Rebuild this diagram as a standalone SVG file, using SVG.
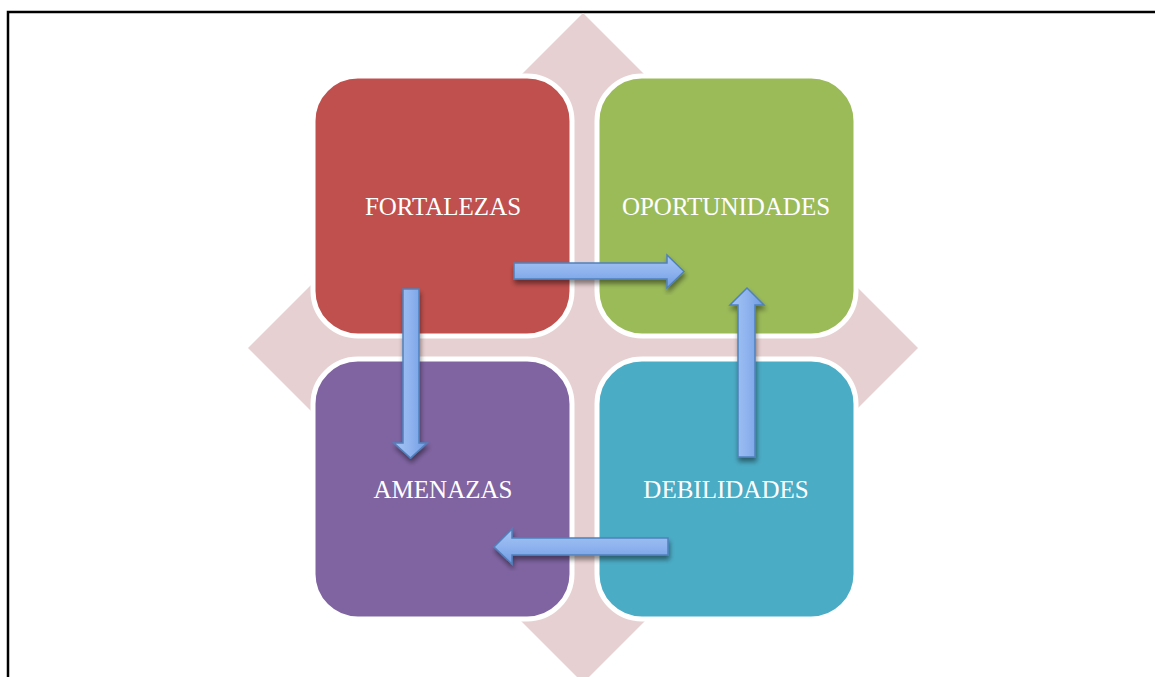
<svg xmlns="http://www.w3.org/2000/svg" width="1155" height="677" viewBox="0 0 1155 677">
<style>
.box{stroke:#ffffff;stroke-width:5}
.lbl{font-family:"Liberation Serif","Times New Roman",serif;font-size:25px;fill:#ffffff;text-anchor:middle}
.arr{stroke:#4f81bd;stroke-width:1.5;stroke-linejoin:miter;filter:url(#sh)}
</style>
<defs>
<linearGradient id="gv" x1="0" y1="0" x2="0" y2="1">
<stop offset="0" stop-color="#a6c6f6"/>
<stop offset="0.5" stop-color="#8fb3ee"/>
<stop offset="1" stop-color="#6f9be3"/>
</linearGradient>
<linearGradient id="gh" x1="0" y1="0" x2="1" y2="0">
<stop offset="0" stop-color="#a6c6f6"/>
<stop offset="0.5" stop-color="#8fb3ee"/>
<stop offset="1" stop-color="#6f9be3"/>
</linearGradient>
<filter id="sh" x="-20%" y="-20%" width="140%" height="140%">
<feGaussianBlur in="SourceAlpha" stdDeviation="2.5"/>
<feOffset dx="1" dy="4" result="b"/>
<feComponentTransfer><feFuncA type="linear" slope="0.45"/></feComponentTransfer>
<feMerge><feMergeNode/><feMergeNode in="SourceGraphic"/></feMerge>
</filter>
</defs>
<rect x="0" y="0" width="1155" height="677" fill="#ffffff"/>
<rect x="8" y="12" width="1170" height="700" fill="none" stroke="#000000" stroke-width="2.5"/>
<polygon id="background" points="583,13 918,348 583,683 248,348" fill="#e7d0d1"/>
<g id="fortalezas">
<rect class="box" x="313" y="76" width="259" height="260" rx="45" fill="#c0504d"/>
<text class="lbl" x="443" y="215">FORTALEZAS</text>
</g>
<g id="oportunidades">
<rect class="box" x="597" y="76" width="259" height="260" rx="45" fill="#9bbb59"/>
<text class="lbl" x="726" y="215">OPORTUNIDADES</text>
</g>
<g id="amenazas">
<rect class="box" x="313" y="359" width="259" height="260" rx="45" fill="#8064a2"/>
<text class="lbl" x="443" y="498">AMENAZAS</text>
</g>
<g id="debilidades">
<rect class="box" x="597" y="359" width="259" height="260" rx="45" fill="#4bacc6"/>
<text class="lbl" x="726" y="498">DEBILIDADES</text>
</g>
<g id="connectors">
<polygon class="arr" fill="url(#gv)" points="514,263 667,263 667,255 684,271.5 667,288 667,279 514,279"/>
<polygon class="arr" fill="url(#gh)" points="403,289 419,289 419,443 427,443 410.5,458 394,443 403,443"/>
<polygon class="arr" fill="url(#gv)" points="668,538 512,538 512,529 494,547 512,564 512,555 668,555"/>
<polygon class="arr" fill="url(#gh)" points="738,457 738,305 730,305 747,288 764,305 755,305 755,457"/>
</g>
</svg>
